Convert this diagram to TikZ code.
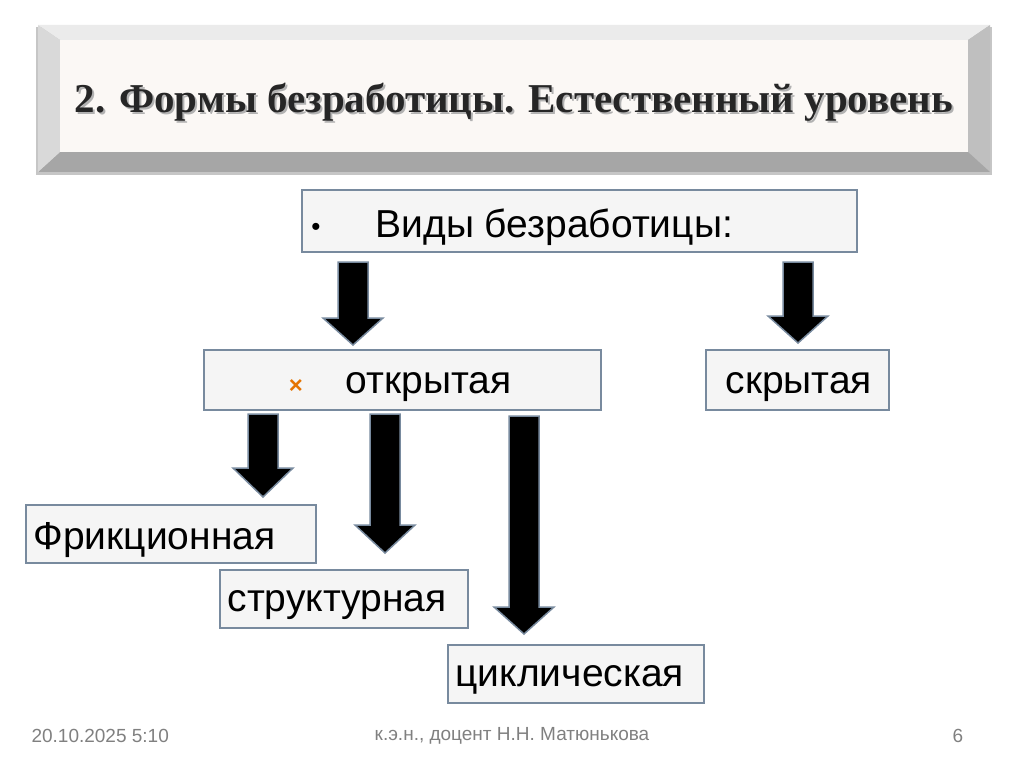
\documentclass[tikz,border=0pt]{standalone}
\usepackage{fontspec}
\setmainfont{Liberation Sans}
\newfontfamily\serifb{Liberation Serif}
\definecolor{bord}{RGB}{120,138,158}
\begin{document}
\begin{tikzpicture}[x=1pt,y=-1pt]
\useasboundingbox (0,0) rectangle (1024,767);
\tikzset{
 box/.style={draw=bord,fill=gray!8,line width=1.2pt},
 btxt/.style={font=\fontsize{39}{42}\selectfont,anchor=west},
 darr/.style={fill=black,draw=bord,line width=1.5pt,line join=miter},
 foot/.style={font=\fontsize{19}{22}\selectfont,text=gray}
}
% banner
\fill[gray!45] (36,27) rectangle (992,175);
\fill[black!8] (38,25) -- (990,25) -- (968,40) -- (60,40) -- cycle;
\fill[black!25] (990,25) -- (990,172) -- (968,152) -- (968,40) -- cycle;
\fill[black!35] (38,172) -- (990,172) -- (968,152) -- (60,152) -- cycle;
\fill[black!15] (38,25) -- (38,172) -- (60,152) -- (60,40) -- cycle;
\fill[black!9!brown!5] (60,40) rectangle (968,152);
\node[font=\serifb\bfseries\fontsize{41}{44}\selectfont,text=gray!60] at (516,104) {2. Формы безработицы. Естественный уровень};
\node[font=\serifb\bfseries\fontsize{41}{44}\selectfont,text=black!85] (title) at (514,102) {2. Формы безработицы. Естественный уровень};
% boxes
\draw[box] (302,190) rectangle (857,252);
\node (bul) at (316,229) {\fontsize{26}{28}\selectfont •};
\node[btxt] (vid) at (372,227) {Виды безработицы:};
\draw[box] (204,350) rectangle (601,410);
\node[text=orange!90!black,font=\bfseries\fontsize{24}{26}\selectfont] (x) at (296,387) {×};
\node[btxt] (otk) at (342,387) {открытая};
\draw[box] (706,350) rectangle (889,410);
\node[btxt] (skr) at (722,387) {скрытая};
\draw[box] (26,505) rectangle (316,563);
\node[btxt] (fr) at (30,540) {Фрикционная};
\draw[box] (220,570) rectangle (468,628);
\node[btxt] (st) at (224,605) {структурная};
\draw[box] (448,645) rectangle (704,703);
\node[btxt] (cy) at (452,680) {циклическая};
% arrows
\foreach \cx/\yt/\ys/\yb in {353/262/318/345, 798/262/316/343, 263/414/468/497, 385/414/525/553, 524/416/607/634}{
 \draw[darr] (\cx-15,\yt) -- (\cx+15,\yt) -- (\cx+15,\ys) -- (\cx+30,\ys) -- (\cx,\yb) -- (\cx-30,\ys) -- (\cx-15,\ys) -- cycle;
}
% footer
\node[foot,anchor=west] (d) at (28,736) {20.10.2025 5:10};
\node[foot] (a) at (512,736) {к.э.н., доцент Н.Н. Матюнькова};
\node[foot] (p) at (958,736) {6};
\end{tikzpicture}
\end{document}
